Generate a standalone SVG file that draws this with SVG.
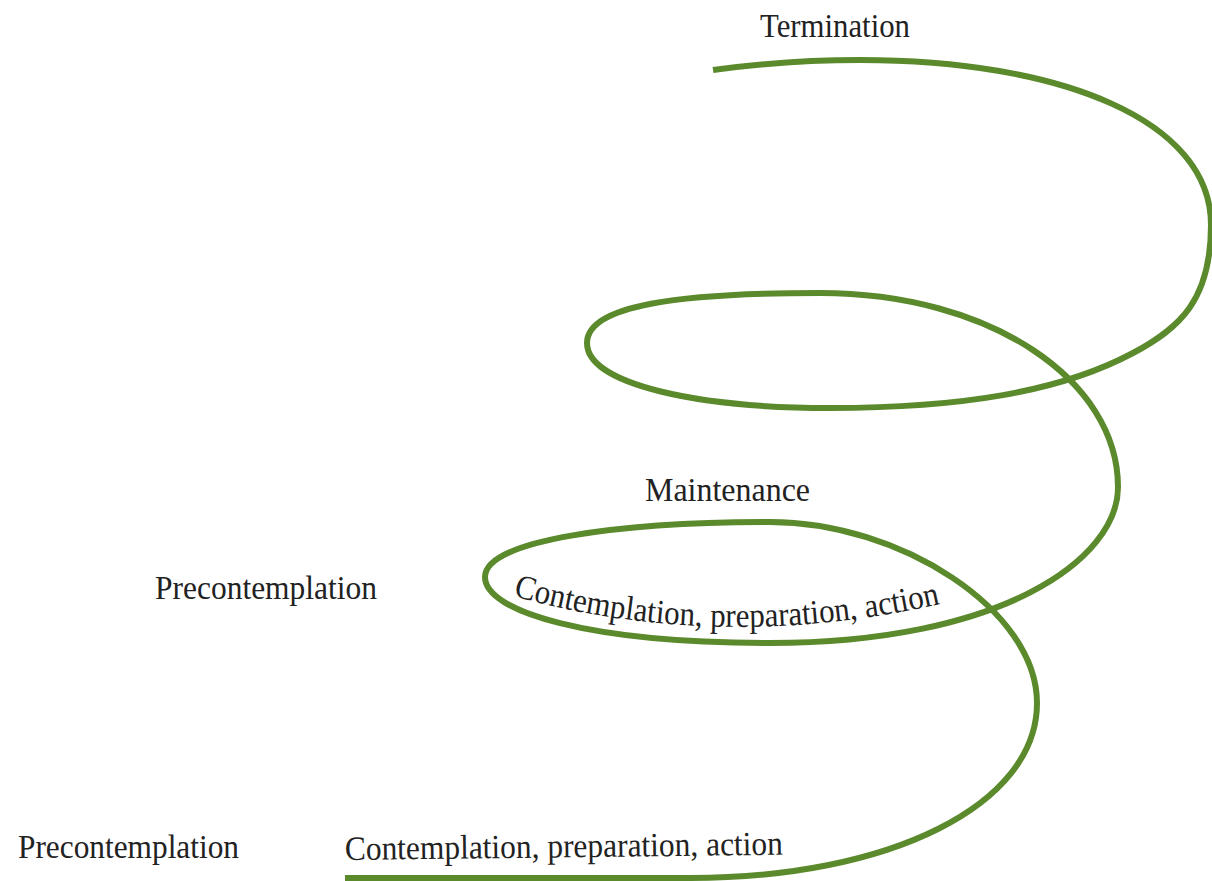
<svg xmlns="http://www.w3.org/2000/svg" width="1212" height="881" viewBox="0 0 1212 881">
  <style>
    .spiral { fill: none; stroke: #5b8a2d; stroke-width: 6; stroke-linecap: butt; stroke-linejoin: round; }
    .lbl { font-family: "Liberation Serif", "DejaVu Serif", serif; font-size: 34px; fill: #222; }
  </style>
  <defs>
    <path id="arcText" d="M513,596 Q720,654 945,603"/>
  </defs>
  <rect width="1212" height="881" fill="#ffffff"/>
  <g id="connectors">
    <path class="spiral" d="M345,878 L690,878
      C890,878 1037,805 1037,703
      C1037,610 900,522 770,522
      C620,522 485,540 485,577
      C485,612 590,643 770,643
      C1000,643 1118,560 1118,487
      C1118,380 990,293 820,293
      C680,293 587,305 587,343
      C587,385 700,408 830,408
      C960,408 1060,392 1133,353
      C1180,328 1211,300 1211,225
      C1211,120 1060,60 860,60
      C800,60 750,65 713,70"/>
  </g>
  <g id="termination">
    <text class="lbl" x="760" y="37" textLength="150" lengthAdjust="spacingAndGlyphs">Termination</text>
  </g>
  <g id="maintenance">
    <text class="lbl" x="645" y="501" textLength="165" lengthAdjust="spacingAndGlyphs">Maintenance</text>
  </g>
  <g id="precontemplation-upper">
    <text class="lbl" x="155" y="599" textLength="222" lengthAdjust="spacingAndGlyphs">Precontemplation</text>
  </g>
  <g id="cpa-upper">
    <text class="lbl"><textPath href="#arcText" textLength="432" lengthAdjust="spacingAndGlyphs">Contemplation, preparation, action</textPath></text>
  </g>
  <g id="precontemplation-lower">
    <text class="lbl" x="18" y="858" textLength="221" lengthAdjust="spacingAndGlyphs">Precontemplation</text>
  </g>
  <g id="cpa-lower">
    <text class="lbl" x="345" y="860" textLength="438" lengthAdjust="spacingAndGlyphs" transform="rotate(-0.7 345 860)">Contemplation, preparation, action</text>
  </g>
</svg>
